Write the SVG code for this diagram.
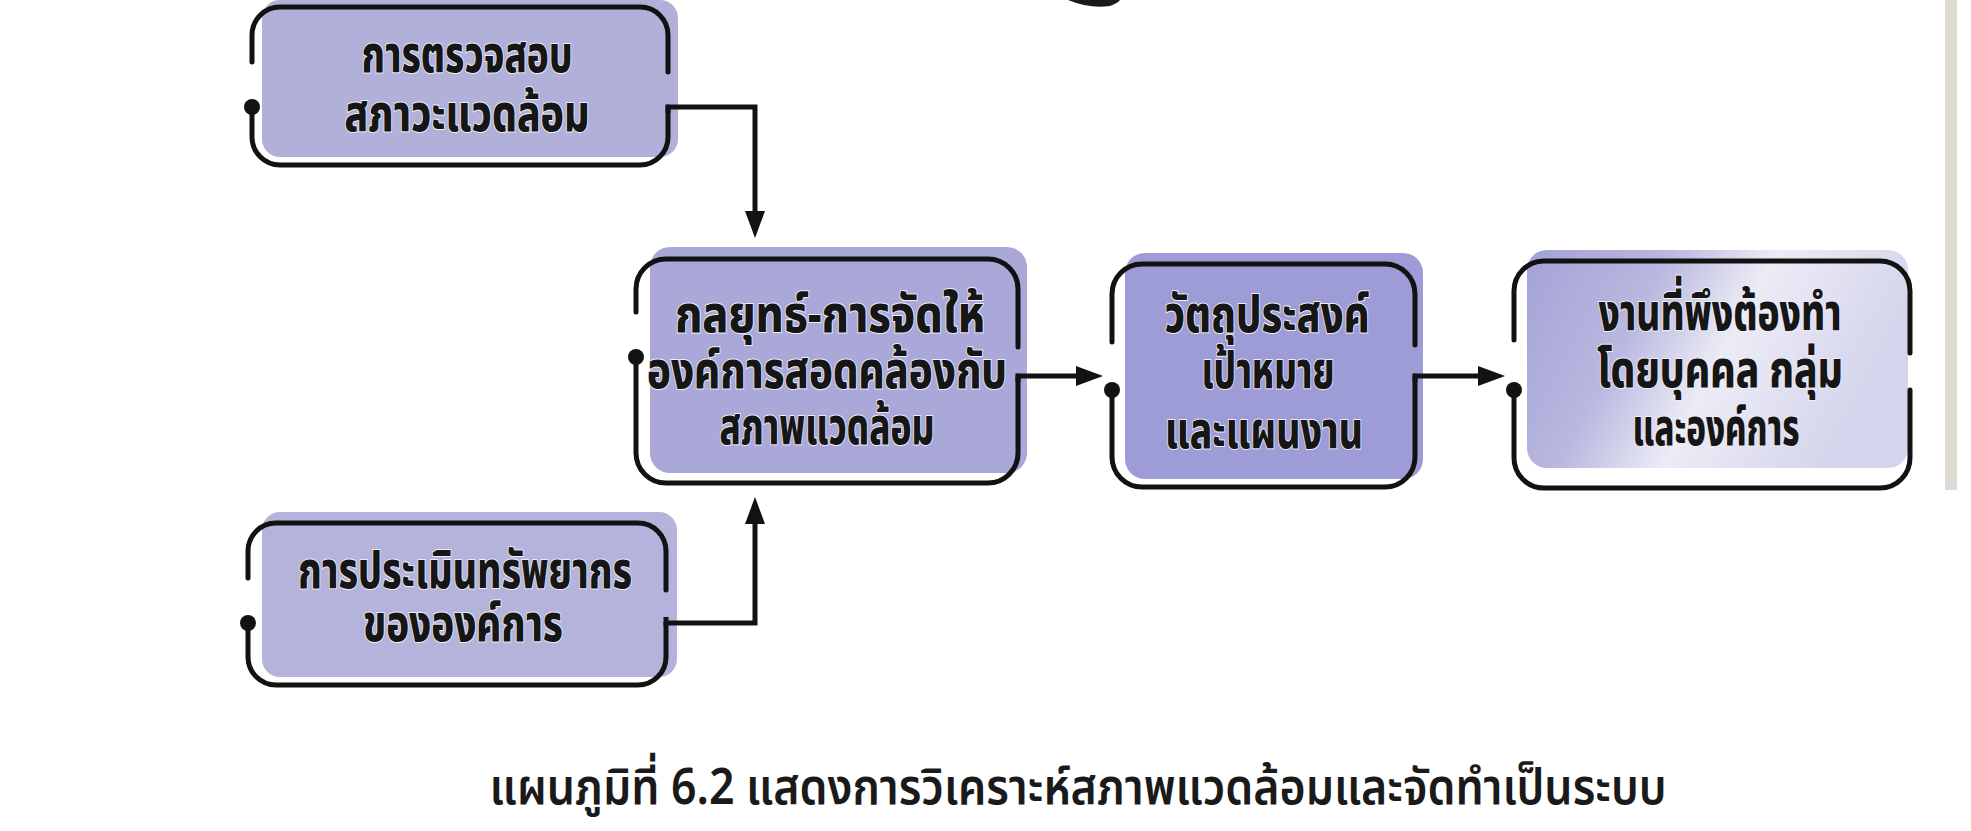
<svg xmlns="http://www.w3.org/2000/svg" width="1971" height="831" viewBox="0 0 1971 831">
<defs>
<style>
.ol{fill:none;stroke:#121212;stroke-width:5;stroke-linecap:round;stroke-linejoin:round}
.cn{fill:none;stroke:#121212;stroke-width:5;stroke-linejoin:miter}
.dot{fill:#121212}
.t{font-family:"Noto Sans Thai","Noto Sans Thai Looped","Noto Sans",sans-serif;font-weight:800;font-size:52px;fill:#161616;text-anchor:middle;stroke:#eeeef8;stroke-width:2;paint-order:stroke}
.cap{font-family:"Noto Sans Thai","Noto Sans",sans-serif;font-weight:600;font-size:50px;fill:#1a1a1a;text-anchor:middle}
</style>
<marker id="ah" viewBox="0 0 27 20" refX="13" refY="10" markerWidth="27" markerHeight="20" markerUnits="userSpaceOnUse" orient="auto">
<path d="M0,0 L27,10 L0,20 Z" fill="#121212"/>
</marker>
<linearGradient id="g5" x1="0" y1="0" x2="1" y2="0.3">
<stop offset="0" stop-color="#a3a2d6"/>
<stop offset="0.35" stop-color="#b9b8e0"/>
<stop offset="0.6" stop-color="#ececf6"/>
<stop offset="1" stop-color="#d4d4ec"/>
</linearGradient>
</defs>
<rect width="1971" height="831" fill="#ffffff"/>
<path d="M1068,0 Q1090,9 1110,6 Q1118,3 1120,0 Z" fill="#1a1a1a"/>
<rect x="1945" y="0" width="12" height="490" fill="#c9c2b8" opacity="0.6"/>

<g id="n1">
<rect x="262" y="0" width="416" height="157" rx="18" fill="#b1b0d9"/>
<path class="ol" d="M252,62 V35 A28,28 0 0 1 280,7 H640 A28,28 0 0 1 668,35 V72"/>
<path class="ol" d="M252,107 V137 A28,28 0 0 0 280,165 H640 A28,28 0 0 0 668,137 V107"/>
<circle class="dot" cx="252" cy="107" r="8"/>
<text class="t" x="467" y="72" textLength="211" lengthAdjust="spacingAndGlyphs">การตรวจสอบ</text>
<text class="t" x="467" y="131" textLength="245" lengthAdjust="spacingAndGlyphs">สภาวะแวดล้อม</text>
</g>

<g id="n2">
<rect x="262" y="512" width="415" height="165" rx="18" fill="#b3b3db"/>
<path class="ol" d="M248,578 V551 A28,28 0 0 1 276,523 H638 A28,28 0 0 1 666,551 V590"/>
<path class="ol" d="M248,623 V657 A28,28 0 0 0 276,685 H638 A28,28 0 0 0 666,657 V623"/>
<circle class="dot" cx="248" cy="623" r="8"/>
<text class="t" x="465" y="588" textLength="334" lengthAdjust="spacingAndGlyphs">การประเมินทรัพยากร</text>
<text class="t" x="463" y="641" textLength="200" lengthAdjust="spacingAndGlyphs">ขององค์การ</text>
</g>

<g id="n3">
<rect x="650" y="247" width="377" height="226" rx="20" fill="#a9a8d8"/>
<path class="ol" d="M636,312 V289 A30,30 0 0 1 666,259 H988 A30,30 0 0 1 1018,289 V347"/>
<path class="ol" d="M636,357 V453 A30,30 0 0 0 666,483 H988 A30,30 0 0 0 1018,453 V376"/>
<circle class="dot" cx="636" cy="357" r="8"/>
<text class="t" x="830" y="332" textLength="310" lengthAdjust="spacingAndGlyphs">กลยุทธ์-การจัดให้</text>
<text class="t" x="827" y="388" textLength="360" lengthAdjust="spacingAndGlyphs">องค์การสอดคล้องกับ</text>
<text class="t" x="827" y="444" textLength="215" lengthAdjust="spacingAndGlyphs">สภาพแวดล้อม</text>
</g>

<g id="n4">
<rect x="1125" y="253" width="298" height="226" rx="20" fill="#9d9cd6"/>
<path class="ol" d="M1112,342 V294 A30,30 0 0 1 1142,264 H1385 A30,30 0 0 1 1415,294 V345"/>
<path class="ol" d="M1112,390 V457 A30,30 0 0 0 1142,487 H1385 A30,30 0 0 0 1415,457 V376"/>
<circle class="dot" cx="1112" cy="390" r="8"/>
<text class="t" x="1267" y="332" textLength="205" lengthAdjust="spacingAndGlyphs">วัตถุประสงค์</text>
<text class="t" x="1268" y="388" textLength="133" lengthAdjust="spacingAndGlyphs">เป้าหมาย</text>
<text class="t" x="1264" y="448" textLength="198" lengthAdjust="spacingAndGlyphs">และแผนงาน</text>
</g>

<g id="n5">
<rect x="1527" y="250" width="381" height="218" rx="20" fill="url(#g5)"/>
<path class="ol" d="M1514,340 V291 A30,30 0 0 1 1544,261 H1880 A30,30 0 0 1 1910,291 V353"/>
<path class="ol" d="M1514,390 V458 A30,30 0 0 0 1544,488 H1880 A30,30 0 0 0 1910,458 V390"/>
<circle class="dot" cx="1514" cy="390" r="8"/>
<text class="t" x="1720" y="330" textLength="243" lengthAdjust="spacingAndGlyphs">งานที่พึงต้องทำ</text>
<text class="t" x="1720" y="387" textLength="246" lengthAdjust="spacingAndGlyphs">โดยบุคคล กลุ่ม</text>
<text class="t" x="1716" y="445" textLength="167" lengthAdjust="spacingAndGlyphs">และองค์การ</text>
</g>

<g id="connectors">
<path class="cn" d="M668,113 V107 H755 V224" marker-end="url(#ah)"/>
<path class="cn" d="M666,617 V623 H755 V511" marker-end="url(#ah)"/>
<path class="cn" d="M1018,382 V376 H1089" marker-end="url(#ah)"/>
<path class="cn" d="M1415,382 V376 H1491" marker-end="url(#ah)"/>
</g>

<text class="cap" x="1078" y="804" textLength="1177" lengthAdjust="spacingAndGlyphs">แผนภูมิที่ 6.2 แสดงการวิเคราะห์สภาพแวดล้อมและจัดทำเป็นระบบ</text>
</svg>
